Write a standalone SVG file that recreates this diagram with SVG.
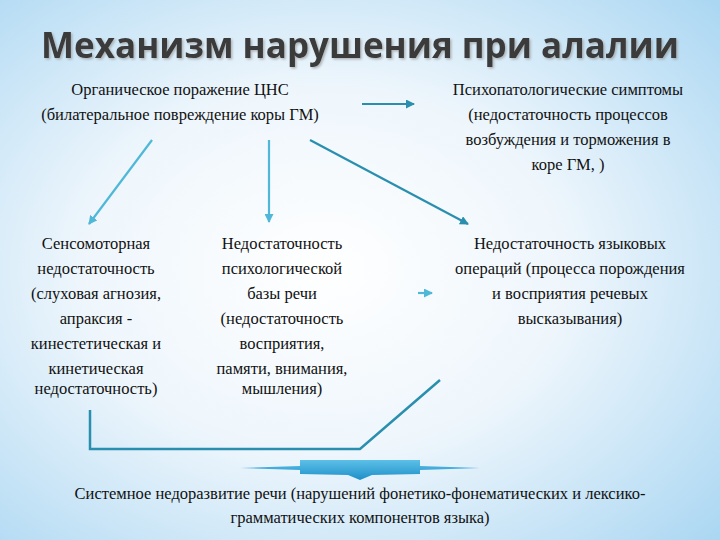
<svg xmlns="http://www.w3.org/2000/svg" width="720" height="540" viewBox="0 0 720 540">
<defs>
<radialGradient id="bg" cx="0.45" cy="0.5" r="0.75">
<stop offset="0" stop-color="#ffffff"/><stop offset="0.45" stop-color="#eef6fc"/><stop offset="1" stop-color="#a9d6f2"/>
</radialGradient>
<linearGradient id="ar" x1="0" y1="0" x2="0" y2="1"><stop offset="0" stop-color="#5cc0e8"/><stop offset="1" stop-color="#1e8fc8"/></linearGradient>
<filter id="sh"><feDropShadow dx="1.5" dy="1.5" stdDeviation="1" flood-color="#999" flood-opacity="0.7"/></filter>
<marker id="ahA" markerWidth="9" markerHeight="9" refX="8" refY="4.5" orient="auto" markerUnits="userSpaceOnUse"><path d="M0,0 L9,4.5 L0,9 Z" fill="#4fb8d8"/></marker>
<marker id="ahB" markerWidth="9" markerHeight="9" refX="8" refY="4.5" orient="auto" markerUnits="userSpaceOnUse"><path d="M0,0 L9,4.5 L0,9 Z" fill="#2a8fae"/></marker>
</defs>
<style>
.a1{stroke:#4fb8d8;stroke-width:2.2;fill:none;marker-end:url(#ahA)}
.a2{stroke:#2a8fae;stroke-width:2.2;fill:none;marker-end:url(#ahB)}
</style>
<rect width="720" height="540" fill="url(#bg)"/>
<text x="360" y="58" font-family="Open Sans,sans-serif" font-weight="bold" font-size="35" fill="#3a3a3a" text-anchor="middle" filter="url(#sh)">Механизм нарушения при алалии</text>
<g font-family="Liberation Serif, DejaVu Serif, serif" font-size="16.5" fill="#111" text-anchor="middle">
<g id="n1"><text x="180" y="95">Органическое поражение ЦНС</text><text x="180" y="120">(билатеральное повреждение коры ГМ)</text></g>
<g id="n2"><text x="568" y="95">Психопатологические симптомы</text><text x="568" y="120">(недостаточность процессов</text><text x="568" y="145">возбуждения и торможения в</text><text x="568" y="170">коре ГМ, )</text></g>
<g id="n3"><text x="96" y="249">Сенсомоторная</text><text x="96" y="274">недостаточность</text><text x="96" y="299">(слуховая агнозия,</text><text x="96" y="324">апраксия -</text><text x="96" y="349">кинестетическая и</text><text x="96" y="374">кинетическая</text><text x="96" y="394">недостаточность)</text></g>
<g id="n4"><text x="282" y="249">Недостаточность</text><text x="282" y="274">психологической</text><text x="282" y="299">базы речи</text><text x="282" y="324">(недостаточность</text><text x="282" y="349">восприятия,</text><text x="282" y="374">памяти, внимания,</text><text x="282" y="394">мышления)</text></g>
<g id="n5"><text x="570" y="249">Недостаточность языковых</text><text x="570" y="274">операций (процесса порождения</text><text x="570" y="299">и восприятия речевых</text><text x="570" y="324">высказывания)</text></g>
<g id="n6"><text x="360" y="499">Системное недоразвитие речи (нарушений фонетико-фонематических и лексико-</text><text x="360" y="523">грамматических компонентов языка)</text></g>
</g>
<g id="connectors">
<line class="a2" x1="362" y1="104" x2="414" y2="104"/>
<line class="a1" x1="152" y1="140" x2="89" y2="224"/>
<line class="a1" x1="269" y1="140" x2="269" y2="222"/>
<line class="a2" x1="310" y1="140" x2="468" y2="224"/>
<line class="a1" x1="418" y1="293" x2="432" y2="293"/>
<polyline points="90,410 90,449 360,449 440,380" stroke="#2a8fae" stroke-width="2.5" fill="none"/>
<path d="M240,468 L300,466 L300,460 L420,460 L420,466 L480,468 L420,470 L420,474 L372,475 L360,480 L348,475 L300,474 L300,470 Z" fill="url(#ar)"/>
</g>
</svg>
